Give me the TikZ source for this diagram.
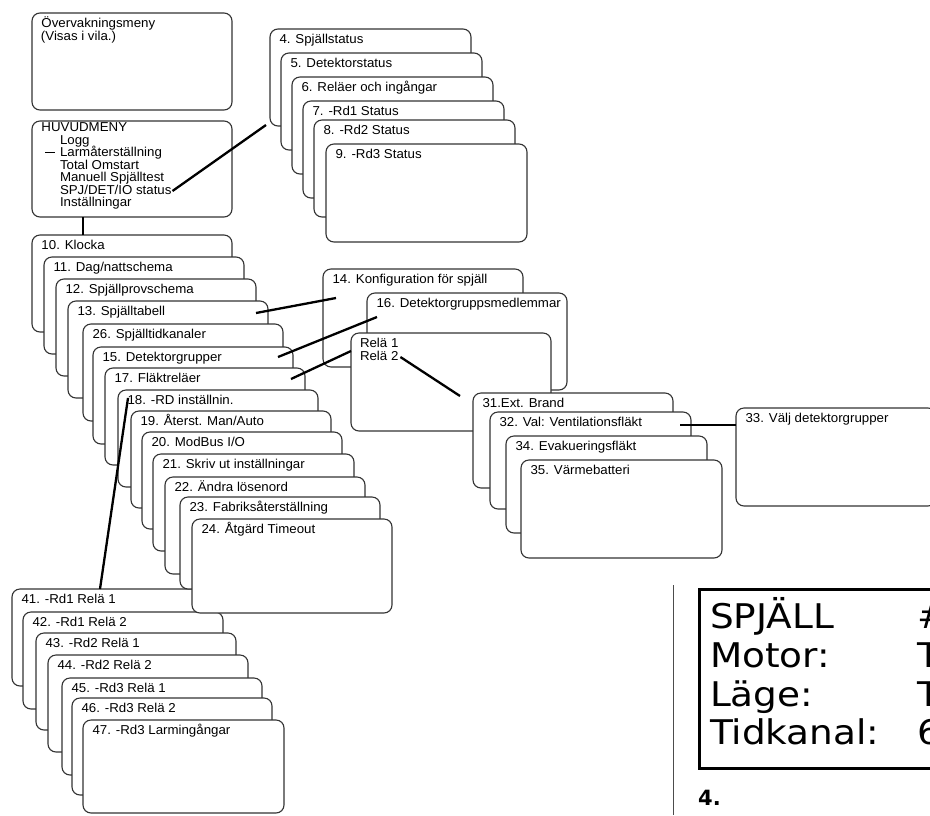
\documentclass[tikz,border=0pt]{standalone}
\usepackage{fontspec}
\newfontfamily\lbfont[FakeStretch=1.03]{Liberation Sans}
\newfontfamily\lcdfont[FakeStretch=1.1]{DejaVu Sans}
\newfontfamily\lcdbold{DejaVu Sans Bold}
\usetikzlibrary{calc}
\tikzset{
  menubox/.style={draw=black!80, line width=1.1pt, rounded corners=8pt, fill=white, inner sep=0pt, outer sep=0pt},
  lbl/.style={font=\lbfont\fontsize{12.9}{12.5}\selectfont, inner sep=0pt, outer sep=0pt, anchor=base west, text=black},
  conn/.style={line width=2.3pt, black},
  lcdtxt/.style={font=\lcdfont\fontsize{34}{34}\selectfont, inner sep=0pt, outer sep=0pt, anchor=base west},
}
% name, x, y, width, height, label
\newcommand\mkbox[6]{%
  \node[menubox, minimum width=#4pt, minimum height=#5pt, anchor=north west] (#1) at (#2,#3) {};
  \node[lbl] (#1t) at ([xshift=9.5pt,yshift=-14.5pt]#1.north west) {#6};
}
\begin{document}
\begin{tikzpicture}[x=1pt,y=-1pt]
\fill[white] (0,0) rectangle (930,815);
\useasboundingbox (0,0) rectangle (930,815);

% top-left menus
\mkbox{ov}{32}{13}{200}{97}{Övervakningsmeny}
\node[lbl] (ov2) at (41,40.5) {(Visas i vila.)};
\node[menubox, minimum width=200pt, minimum height=96pt, anchor=north west] (hm) at (32,121) {};
\node[lbl] (hmt) at (41.5,131.7) {HUVUDMENY};
\node[lbl] (logg) at (60,144) {Logg};
\node[lbl] (larm) at (60,156.5) {Larmåterställning};
\node[lbl] (tot) at (60,169) {Total Omstart};
\node[lbl] (man) at (60,181.5) {Manuell Spjälltest};
\node[lbl] (spj) at (60,194) {SPJ/DET/IO status};
\node[lbl] (inst) at (60,206.5) {Inställningar};

% status stack
\mkbox{b4}{270}{29}{201}{97}{4. Spjällstatus}
\mkbox{b5}{281}{53}{201}{97}{5. Detektorstatus}
\mkbox{b6}{292}{77}{201}{97}{6. Reläer och ingångar}
\mkbox{b7}{303}{101}{201}{97}{7. -Rd1 Status}
\mkbox{b8}{314}{120}{201}{97}{8. -Rd2 Status}
\mkbox{b9}{326}{144}{201}{98}{9. -Rd3 Status}

% bottom stack
\mkbox{b41}{12}{589}{200}{97}{41. -Rd1 Relä 1}
\mkbox{b42}{23}{612}{200}{97}{42. -Rd1 Relä 2}
\mkbox{b43}{36}{633}{200}{97}{43. -Rd2 Relä 1}
\mkbox{b44}{48}{655}{200}{97}{44. -Rd2 Relä 2}
\mkbox{b45}{62}{678}{200}{97}{45. -Rd3 Relä 1}
\mkbox{b46}{72}{698}{200}{97}{46. -Rd3 Relä 2}
\mkbox{b47}{83}{720}{201}{93}{47. -Rd3 Larmingångar}

% settings stack
\mkbox{b10}{32}{235}{200}{97}{10. Klocka}
\mkbox{b11}{44}{257}{200}{97}{11. Dag/nattschema}
\mkbox{b12}{56}{279}{200}{97}{12. Spjällprovschema}
\mkbox{b13}{68}{301}{200}{97}{13. Spjälltabell}
\mkbox{b26}{83}{324}{200}{97}{26. Spjälltidkanaler}
\mkbox{b15}{93}{347}{200}{97}{15. Detektorgrupper}
\mkbox{b17}{105}{368}{200}{97}{17. Fläktreläer}
\mkbox{b18}{118}{390}{200}{97}{18. -RD inställnin.}
\mkbox{b19}{131}{411}{200}{97}{19. Återst. Man/Auto}
\mkbox{b20}{142}{432}{200}{97}{20. ModBus I/O}
\mkbox{b21}{153}{454}{201}{97}{21. Skriv ut inställningar}
\mkbox{b22}{165}{477}{200}{97}{22. Ändra lösenord}
\mkbox{b23}{180}{497}{200}{92}{23. Fabriksåterställning}
\mkbox{b24}{192}{519}{200}{94}{24. Åtgärd Timeout}

% right side
\mkbox{b14}{323}{269}{200}{98}{14. Konfiguration för spjäll}
\mkbox{b16}{367}{293}{200}{97}{16. Detektorgruppsmedlemmar}
\node[menubox, minimum width=200pt, minimum height=98pt, anchor=north west] (brl) at (351,333) {};
\node[lbl] (r1) at (360,347) {Relä 1};
\node[lbl] (r2) at (360,360) {Relä 2};
\mkbox{b31}{473}{393}{200}{95}{31.Ext. Brand}
\mkbox{b32}{490}{412}{201}{97}{32. Val: Ventilationsfläkt}
\mkbox{b34}{506}{436}{201}{97}{34. Evakueringsfläkt}
\mkbox{b35}{521}{460}{201}{98}{35. Värmebatteri}
\mkbox{b33}{736}{408}{200}{98}{33. Välj detektorgrupper}

% connectors
\draw[line width=1.4pt] ([xshift=-15pt,yshift=4pt]larm.base west) -- ([xshift=-5pt,yshift=4pt]larm.base west);
\draw[conn] ([xshift=1pt,yshift=3pt]spj.base east) -- ([xshift=-4pt,yshift=1pt]b4.south west);
\draw[conn] ([xshift=51pt]hm.south west) -- ([xshift=51pt]b10.north west);
\draw[conn] ([xshift=-12pt,yshift=-12pt]b13.north east) -- ([xshift=13pt,yshift=-29pt]b14.north west);
\draw[conn] ([xshift=-15pt,yshift=-10pt]b15.north east) -- ([xshift=10pt,yshift=-24pt]b16.north west);
\draw[conn] ([xshift=-14pt,yshift=-11pt]b17.north east) -- ([yshift=-18pt]brl.north west);
\draw[conn] ([xshift=2pt,yshift=3pt]r2.base east) -- ([xshift=-13pt,yshift=-3pt]b31.north west);
\draw[conn] ([xshift=-11pt,yshift=-13pt]b32.north east) -- ([yshift=-17pt]b33.north west);
\draw[conn] ([xshift=10pt,yshift=-8pt]b18.north west) -- ([xshift=88pt]b41.north west);

% LCD display
\draw[black!70, line width=0.9pt] (673,585) -- (673,815);
\node[draw=black, line width=2.5pt, minimum width=260pt, minimum height=179pt, anchor=north west, inner sep=0pt] (lcd) at (698,588) {};
\node[lcdtxt] (l1) at (710,628) {SPJÄLL};
\node[lcdtxt] (l2) at (710,667) {Motor:};
\node[lcdtxt] (l3) at (710,706) {Läge:};
\node[lcdtxt] (l4) at (710,744) {Tidkanal:};
\node[lcdtxt] (v1) at (917,628) {\#};
\node[lcdtxt] (v2) at (917,667) {T};
\node[lcdtxt] (v3) at (917,706) {T};
\node[lcdtxt] (v4) at (917,744) {6};
\node[font=\lcdbold\fontsize{21}{21}\selectfont, inner sep=0pt, anchor=base west] (num) at (698,805) {4.};
\end{tikzpicture}
\end{document}
